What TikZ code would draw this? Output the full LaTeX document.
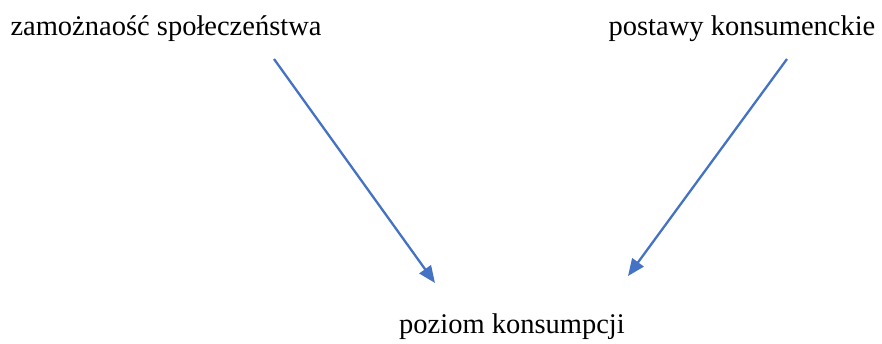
\documentclass[tikz,border=0pt]{standalone}
\usepackage{fontspec}
\setmainfont{Liberation Serif}
\usetikzlibrary{arrows.meta}
\definecolor{arrowblue}{HTML}{4472C4}
\tikzset{
  lbl/.style={font=\fontsize{28.5}{32}\selectfont, inner sep=0pt, text=black},
  conn/.style={draw=arrowblue, line width=2.3pt, -{Triangle[length=17pt,width=14pt]}}
}
\begin{document}
\begin{tikzpicture}[x=1pt,y=-1pt]
\useasboundingbox (0,0) rectangle (882,344);
\node[lbl] (zam) at (166,29) {zamożnaość społeczeństwa};
\node[lbl] (post) at (742,29) {postawy konsumenckie};
\node[lbl] (poz) at (512,327) {poziom konsumpcji};
\coordinate (s1) at (274,59);
\coordinate (e1) at (435,283);
\coordinate (s2) at (787,59);
\coordinate (e2) at (628,276);
\draw[conn] (s1) -- (e1);
\draw[conn] (s2) -- (e2);
\end{tikzpicture}
\end{document}
